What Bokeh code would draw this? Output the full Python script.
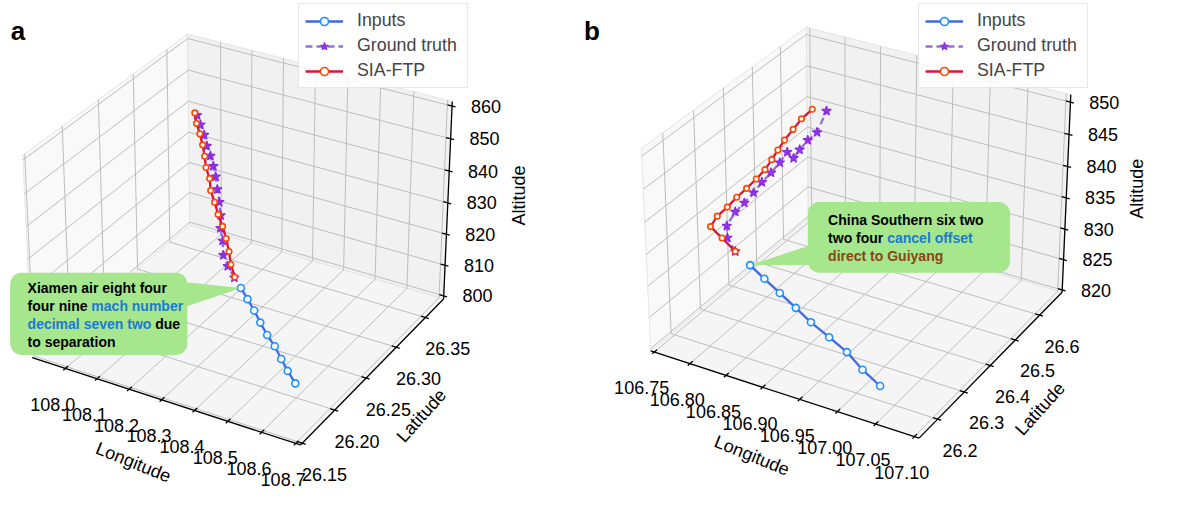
import numpy as np
from bokeh.plotting import figure
from bokeh.layouts import row
from bokeh.models import Range1d, Legend, LegendItem
from bokeh.embed import file_html
from bokeh.resources import INLINE
from bokeh.core.properties import value

# ---------------- data ----------------
# panel a : Xiamen Air 8449
A_IN_LON = [108.608, 108.562, 108.519, 108.474, 108.429, 108.382, 108.337, 108.292, 108.247]
A_IN_LAT = [26.194, 26.206, 26.218, 26.231, 26.242, 26.255, 26.268, 26.280, 26.292]
A_IN_ALT = [805.0, 805.0, 805.0, 805.0, 805.0, 805.0, 805.0, 805.0, 805.0]
A_GT_LON = [108.204, 108.187, 108.175, 108.173, 108.168, 108.169, 108.165, 108.161, 108.158, 108.153,
            108.146, 108.139, 108.133, 108.126, 108.120]
A_GT_LAT = [26.303, 26.301, 26.300, 26.300, 26.299, 26.299, 26.299, 26.298, 26.297, 26.296,
            26.295, 26.293, 26.292, 26.290, 26.288]
A_GT_ALT = [805.0, 808.6, 812.0, 816.6, 820.7, 824.8, 828.9, 833.0, 837.1, 840.4,
            843.6, 846.8, 850.2, 853.5, 856.6]
A_PR_LON = [108.203, 108.193, 108.187, 108.180, 108.171, 108.161, 108.152, 108.144, 108.141, 108.134,
            108.130, 108.126, 108.122, 108.116, 108.113]
A_PR_LAT = [26.304, 26.303, 26.303, 26.302, 26.301, 26.299, 26.298, 26.296, 26.296, 26.294,
            26.294, 26.293, 26.291, 26.289, 26.288]
A_PR_ALT = [805.0, 809.0, 813.0, 817.2, 821.0, 824.9, 828.7, 832.5, 836.2, 839.8,
            843.2, 846.8, 850.4, 853.8, 857.1]

# panel b : China Southern 6224
B_IN_LON = [107.044, 107.010, 106.976, 106.942, 106.907, 106.875, 106.841, 106.808, 106.776]
B_IN_LAT = [26.164, 26.194, 26.230, 26.257, 26.284, 26.313, 26.343, 26.372, 26.401]
B_IN_ALT = [824.0, 824.0, 824.0, 824.0, 824.0, 824.0, 824.0, 824.0, 824.0]
B_GT_LON = [106.743, 106.737, 106.738, 106.749, 106.760, 106.772, 106.782, 106.794, 106.805, 106.814,
            106.820, 106.827, 106.838, 106.849, 106.863]
B_GT_LAT = [26.430, 26.418, 26.415, 26.419, 26.425, 26.429, 26.434, 26.437, 26.441, 26.445,
            26.452, 26.456, 26.457, 26.462, 26.460]
B_GT_ALT = [824.0, 826.5, 828.6, 831.1, 832.7, 834.6, 836.4, 838.2, 840.0, 841.8,
            840.8, 842.2, 844.0, 845.4, 849.2]
B_PR_LON = [106.743, 106.731, 106.721, 106.730, 106.742, 106.753, 106.765, 106.777, 106.788, 106.797,
            106.805, 106.814, 106.825, 106.836, 106.849]
B_PR_LAT = [26.430, 26.414, 26.399, 26.402, 26.409, 26.416, 26.422, 26.427, 26.431, 26.433,
            26.435, 26.436, 26.439, 26.441, 26.446]
B_PR_ALT = [824.0, 826.4, 828.5, 830.4, 832.0, 833.7, 835.3, 837.0, 838.7, 840.5,
            842.2, 844.0, 845.9, 847.8, 849.5]

SERIES_NAMES = ["Inputs", "Ground truth", "SIA-FTP"]

A_LON_TICKS = [108.0, 108.1, 108.2, 108.3, 108.4, 108.5, 108.6, 108.7]
A_LON_LABELS = ["108.0", "108.1", "108.2", "108.3", "108.4", "108.5", "108.6", "108.7"]
A_LAT_TICKS = [26.15, 26.20, 26.25, 26.30, 26.35]
A_LAT_LABELS = ["26.15", "26.20", "26.25", "26.30", "26.35"]
A_ALT_TICKS = [800, 810, 820, 830, 840, 850, 860]
A_ALT_LABELS = ["800", "810", "820", "830", "840", "850", "860"]
B_LON_TICKS = [106.75, 106.80, 106.85, 106.90, 106.95, 107.00, 107.05, 107.10]
B_LON_LABELS = ["106.75", "106.80", "106.85", "106.90", "106.95", "107.00", "107.05", "107.10"]
B_LAT_TICKS = [26.2, 26.3, 26.4, 26.5, 26.6]
B_LAT_LABELS = ["26.2", "26.3", "26.4", "26.5", "26.6"]
B_ALT_TICKS = [820, 825, 830, 835, 840, 845, 850]
B_ALT_LABELS = ["820", "825", "830", "835", "840", "845", "850"]

# ---------------- layout / styling ----------------
FONT = "Liberation Sans"
S = 491.0 / 507.0
PANEL_W, PANEL_H = 593.0, 507.0
FIG_W, FIG_H = 574, 491

# 3-D view (matplotlib-like perspective, elev 30, azim -60)
ASPECT = np.array([4.0, 4.0, 3.0]) * 1.8294640721620434 / np.sqrt(41.0)
EL, AZ = np.deg2rad(30.0), np.deg2rad(-60.0)
WV = np.array([np.cos(EL) * np.cos(AZ), np.cos(EL) * np.sin(AZ), np.sin(EL)])
UV = np.cross(np.array([0.0, 0.0, 1.0]), WV)
UV = UV / np.linalg.norm(UV)
VV = np.cross(WV, UV)
DIST = 10.0

CFG = {
    "a": dict(x0=0.0, cx=249.0, cy=237.0, k=2780.0,
              lims=((107.894, 108.714), (26.1475, 26.382), (798.94, 861.39))),
    "b": dict(x0=593.0, cx=888.0, cy=230.0, k=2780.0,
              lims=((106.745, 107.106), (26.132, 26.695), (819.625, 851.14))),
}


def project(cfg, x, y, z):
    x, y, z = np.broadcast_arrays(np.atleast_1d(np.asarray(x, float)),
                                  np.atleast_1d(np.asarray(y, float)),
                                  np.atleast_1d(np.asarray(z, float)))
    (x0, x1), (y0, y1), (z0, z1) = cfg["lims"]
    d = np.vstack([((x - x0) / (x1 - x0) - 0.5) * ASPECT[0],
                   ((y - y0) / (y1 - y0) - 0.5) * ASPECT[1],
                   ((z - z0) / (z1 - z0) - 0.5) * ASPECT[2]])
    den = DIST - WV @ d
    return (UV @ d) / den, (VV @ d) / den


BOLD_W = {' ': 278, 'a': 556, 'b': 611, 'c': 556, 'd': 611, 'e': 556, 'f': 333, 'g': 611, 'h': 611,
          'i': 278, 'j': 278, 'k': 556, 'l': 278, 'm': 889, 'n': 611, 'o': 611, 'p': 611, 'q': 611,
          'r': 389, 's': 556, 't': 333, 'u': 611, 'v': 556, 'w': 778, 'x': 556, 'y': 556, 'z': 500,
          'C': 722, 'G': 778, 'S': 667, 'X': 667}


def bold_width(txt, size):
    return sum(BOLD_W.get(c, 600) for c in txt) / 1000.0 * size


GREEN = "#a6e68d"
BLUE = "#1a7bd0"
BROWN = "#8b4513"
BLACK = "#000000"

CALLOUT_A = dict(box=(10, 281, 193, 366), base=((192, 291), (192, 316)), tx=28,
                 ys=[297, 315.5, 334, 352.5],
                 lines=[[("Xiamen air eight four", BLACK)],
                        [("four nine ", BLACK), ("mach number", BLUE)],
                        [("decimal seven two", BLUE), (" due", BLACK)],
                        [("to separation", BLACK)]])
CALLOUT_B = dict(box=(834, 208, 1043, 281), base=((836, 253), (836, 273)), tx=855,
                 ys=[227, 245.5, 264],
                 lines=[[("China Southern six two", BLACK)],
                        [("two four ", BLACK), ("cancel offset", BLUE)],
                        [("direct to Guiyang", BROWN)]])


def rrect(L, T, R, B, r, n=10):
    pts = []
    for ccx, ccy, a0 in [(R - r, T + r, -90), (R - r, B - r, 0), (L + r, B - r, 90), (L + r, T + r, 180)]:
        for a in np.linspace(np.deg2rad(a0), np.deg2rad(a0 + 90), n):
            pts.append((ccx + r * np.cos(a), ccy + r * np.sin(a)))
    return pts


def build(key, lon_t, lon_l, lat_t, lat_l, alt_t, alt_l, series, callout, letter, legend_left):
    cfg = CFG[key]
    k, cx, cy = cfg["k"], cfg["cx"], cfg["cy"]
    (x0, x1), (y0, y1), (z0, z1) = cfg["lims"]
    p = figure(width=FIG_W, height=FIG_H,
               x_range=Range1d((cfg["x0"] - cx) / k, (cfg["x0"] + PANEL_W - cx) / k),
               y_range=Range1d((cy - PANEL_H) / k, cy / k),
               x_axis_type=None, y_axis_type=None, output_backend="svg",
               toolbar_location=None, min_border=0, outline_line_color=None)
    p.background_fill_color = "white"
    p.border_fill_color = "white"

    def P(x, y, z):
        a, b = project(cfg, x, y, z)
        return list(a), list(b)

    def RX(X):
        return (X - cx) / k

    def RY(Y):
        return (cy - Y) / k

    # panes
    for xs, ys, zs, col in [([x0, x0, x0, x0], [y0, y1, y1, y0], [z0, z0, z1, z1], "#f9f9f9"),
                            ([x0, x1, x1, x0], [y1, y1, y1, y1], [z0, z0, z1, z1], "#f1f1f1"),
                            ([x0, x1, x1, x0], [y0, y0, y1, y1], [z0, z0, z0, z0], "#f5f5f5")]:
        a, b = P(xs, ys, zs)
        p.patch(a, b, fill_color=col, line_color="#e4e4e4", line_width=1)

    # grid lines
    gx, gy = [], []
    for t in lon_t:
        a, b = P([t, t, t], [y0, y1, y1], [z0, z0, z1]); gx.append(a); gy.append(b)
    for t in lat_t:
        a, b = P([x1, x0, x0], [t, t, t], [z0, z0, z1]); gx.append(a); gy.append(b)
    for t in alt_t:
        a, b = P([x0, x0, x1], [y0, y1, y1], [t, t, t]); gx.append(a); gy.append(b)
    p.multi_line(gx, gy, line_color="#bdbdbd", line_width=1)

    # callout bubble
    L, T, R, B = callout["box"]
    pts = rrect(L, T, R, B, 12)
    p.patch([RX(q[0]) for q in pts], [RY(q[1]) for q in pts], fill_color=GREEN, line_color=None)
    inp = series[0]
    tipx, tipy = P([inp[0][-1]], [inp[1][-1]], [inp[2][-1]])
    (bx1, by1), (bx2, by2) = callout["base"]
    p.patch([RX(bx1), tipx[0], RX(bx2)], [RY(by1), tipy[0], RY(by2)], fill_color=GREEN, line_color=None)
    fs = 14.0
    for yy, segs in zip(callout["ys"], callout["lines"]):
        off = 0.0
        for txt, col in segs:
            lead = len(txt) - len(txt.lstrip(" "))
            off_t = off + bold_width(txt[:lead], fs)
            p.text(x=[RX(callout["tx"]) + off_t / S / k], y=[RY(yy)], text=[txt.strip(" ")],
                   text_font=value(FONT), text_font_style="bold", text_font_size=f"{fs}px",
                   text_color=col, text_align="left", text_baseline="middle")
            off += bold_width(txt, fs)

    # trajectories
    styles = [dict(lc="#4169e1", dash="solid", marker="circle", size=7, fill="white", fa=1.0,
                   mlc="#1e90ff", mlw=1.6),
              dict(lc="#9370db", dash="7 4", marker="star", size=10, fill="#8a2be2", fa=0.9,
                   mlc="#8a2be2", mlw=1.2),
              dict(lc="#dc143c", dash="solid", marker="circle", size=5.5, fill="white", fa=1.0,
                   mlc="#ff4500", mlw=1.6)]
    items = []
    for (lo, la, al), st, nm in zip(series, styles, SERIES_NAMES):
        a, b = P(lo, la, al)
        r1 = p.line(a, b, line_color=st["lc"], line_width=2.3, line_dash=st["dash"])
        r2 = p.scatter(a, b, marker=st["marker"], size=st["size"], fill_color=st["fill"],
                       fill_alpha=st["fa"], line_color=st["mlc"], line_width=st["mlw"])
        items.append(LegendItem(label=nm, renderers=[r1, r2]))

    # axis lines and ticks
    ax_x, ax_y = [], []
    for xs, ys, zs in [([x0, x1], [y0, y0], [z0, z0]), ([x1, x1], [y0, y1], [z0, z0]),
                       ([x1, x1], [y1, y1], [z0, z1])]:
        a, b = P(xs, ys, zs); ax_x.append(a); ax_y.append(b)
    dxr, dyr = (x1 - x0) / 12.0, (y1 - y0) / 12.0
    for t in lon_t:
        a, b = P([t, t], [y0 - 0.15 * dyr, y0 + 0.2 * dyr], [z0, z0]); ax_x.append(a); ax_y.append(b)
    for t in lat_t:
        a, b = P([x1 + 0.15 * dxr, x1 - 0.2 * dxr], [t, t], [z0, z0]); ax_x.append(a); ax_y.append(b)
    for t in alt_t:
        a, b = P([x1 + 0.15 * dxr, x1 - 0.2 * dxr], [y1, y1], [t, t]); ax_x.append(a); ax_y.append(b)
    p.multi_line(ax_x, ax_y, line_color="black", line_width=1.3)

    def labels(xs, ys, zs, txt, off):
        a, b = project(cfg, xs, ys, zs)
        p.text(x=list(a + off[0] / k), y=list(b - off[1] / k), text=txt,
               text_font=value(FONT), text_font_size="18px", text_color="black",
               text_align="center", text_baseline="middle")

    labels(lon_t, y0, z0, lon_l, (-13, 37))
    labels(x1, lat_t, z0, lat_l, (23, 32))
    labels(x1, y1, alt_t, alt_l, (35, 0))

    def axlabel(xs, ys, zs, txt, off, ang):
        a, b = project(cfg, xs, ys, zs)
        mx, my = a.mean(), b.mean()
        p.text(x=[mx + off[0] / k], y=[my - off[1] / k], text=[txt], angle=np.deg2rad(ang),
               text_font=value(FONT), text_font_size="18px", text_color="black",
               text_align="center", text_baseline="middle")

    axlabel([x0, x1], y0, z0, "Longitude", (-34, 63), -22)
    axlabel(x1, [y0, y1], z0, "Latitude", (51, 45), 48)
    axlabel(x1, y1, [z0, z1], "Altitude", (73, -5), 90)

    p.text(x=[RX(cfg["x0"] + 18)], y=[RY(31)], text=[letter], text_font=value(FONT),
           text_font_style="bold", text_font_size="26px", text_align="center", text_baseline="middle")

    leg = Legend(items=items, location=(legend_left, 403))
    leg.label_text_font = FONT
    leg.label_text_font_size = "17.8px"
    leg.glyph_width = 38
    leg.glyph_height = 20
    leg.label_height = 20
    leg.label_width = 104
    leg.spacing = 4
    leg.padding = 6
    leg.label_standoff = 14
    leg.margin = 0
    leg.border_line_color = "#d0d0d0"
    leg.border_line_width = 1
    leg.background_fill_alpha = 0.85
    p.add_layout(leg)
    return p


pa = build("a", A_LON_TICKS, A_LON_LABELS, A_LAT_TICKS, A_LAT_LABELS, A_ALT_TICKS, A_ALT_LABELS,
           [(A_IN_LON, A_IN_LAT, A_IN_ALT), (A_GT_LON, A_GT_LAT, A_GT_ALT), (A_PR_LON, A_PR_LAT, A_PR_ALT)],
           CALLOUT_A, "a", 298)
pb = build("b", B_LON_TICKS, B_LON_LABELS, B_LAT_TICKS, B_LAT_LABELS, B_ALT_TICKS, B_ALT_LABELS,
           [(B_IN_LON, B_IN_LAT, B_IN_ALT), (B_GT_LON, B_GT_LAT, B_GT_ALT), (B_PR_LON, B_PR_LAT, B_PR_ALT)],
           CALLOUT_B, "b", 344)

layout = row(pa, pb)
open("out.html", "w").write(file_html(layout, INLINE))
